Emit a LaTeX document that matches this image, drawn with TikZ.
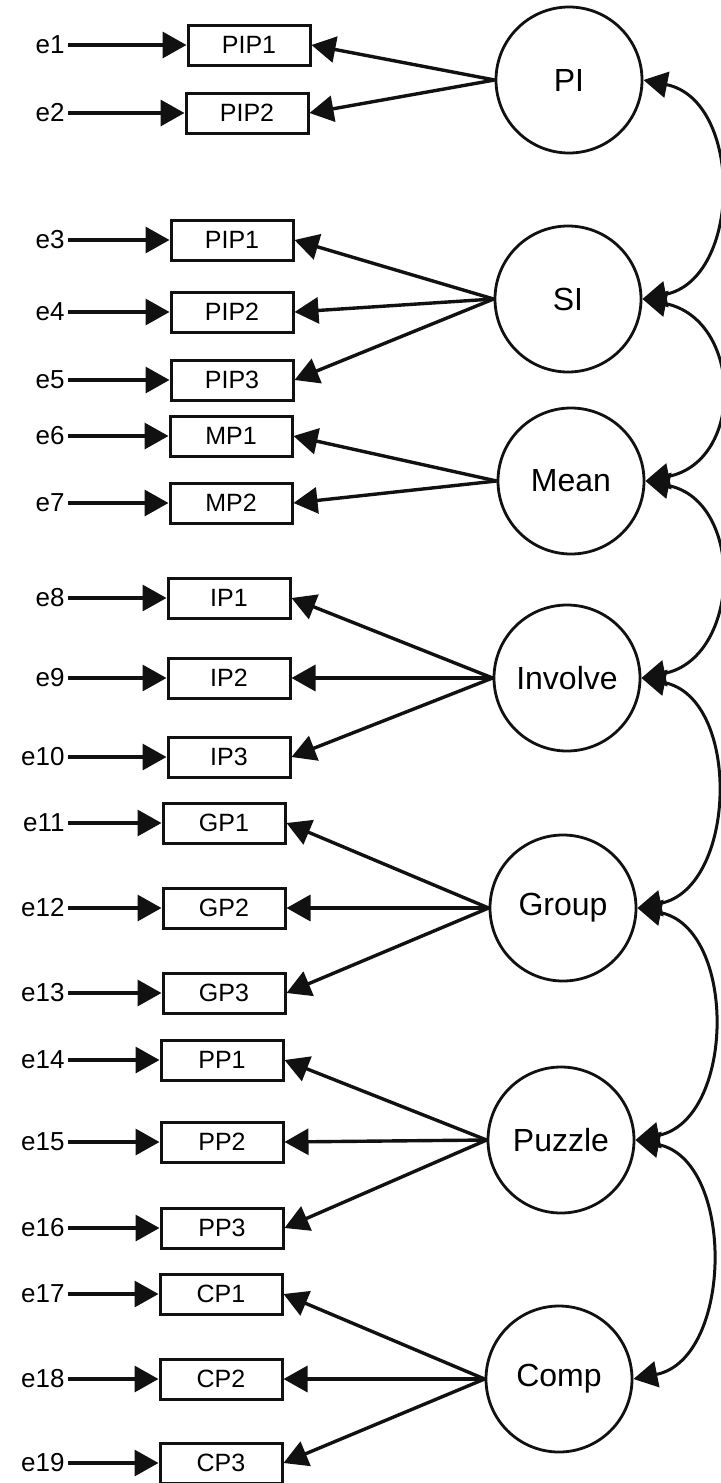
\documentclass[tikz,border=0pt]{standalone}
\usepackage{fontspec}
\setmainfont{Liberation Sans}
\usetikzlibrary{arrows.meta}
\definecolor{ink}{HTML}{111111}
\tikzset{
  >={Triangle[length=12pt,width=13pt]},
  ind/.style={draw=ink,line width=1.5pt,fill=white,minimum width=61pt,minimum height=20pt,inner sep=0pt,font=\fontsize{12.5}{14}\selectfont},
  lat/.style={circle,draw=ink,line width=1.4pt,fill=white,minimum size=73pt,inner sep=0pt,font=\fontsize{16}{18}\selectfont},
  err/.style={anchor=east,inner sep=1.5pt,font=\fontsize{13}{15}\selectfont},
  arr/.style={->,draw=ink,line width=1.7pt},
  cov/.style={<->,draw=ink,line width=1.5pt},
}
\begin{document}
\begin{tikzpicture}[x=0.5pt,y=-0.5pt]
  \useasboundingbox (0,0) rectangle (720,1483);
  % latent factors
  \node[lat] (PI) at (569,80) {PI};
  \node[lat] (SI) at (568,299) {SI};
  \node[lat] (Mean) at (571,481) {Mean};
  \node[lat] (Inv) at (567,678) {Involve};
  \node[lat] (Grp) at (563,908) {Group};
  \node[lat] (Puz) at (561,1140) {Puzzle};
  \node[lat] (Comp) at (559,1379) {Comp};
  % indicators, error terms, loadings
  \foreach \i/\lab/\x/\y/\f in {1/PIP1/249/45/PI, 2/PIP2/247/113/PI,
      3/PIP1/232/240/SI, 4/PIP2/232/312/SI, 5/PIP3/232/380/SI,
      6/MP1/231/436/Mean, 7/MP2/231/503/Mean,
      8/IP1/229/598/Inv, 9/IP2/229/678/Inv, 10/IP3/229/757/Inv,
      11/GP1/224/823/Grp, 12/GP2/224/908/Grp, 13/GP3/224/993/Grp,
      14/PP1/222/1060/Puz, 15/PP2/222/1142/Puz, 16/PP3/222/1228/Puz,
      17/CP1/221/1294/Comp, 18/CP2/221/1379/Comp, 19/CP3/221/1463/Comp} {
    \node[ind] (m\i) at (\x,\y) {\lab};
    \node[err] (e\i) at (68,\y) {e\i};
    \draw[arr] (e\i) -- (m\i);
    \draw[arr] (\f.west) -- (m\i.east);
  }
  % correlations between neighbouring factors
  \draw[cov] (PI.east) .. controls +(100,20) and +(100,-20) .. (SI.east);
  \draw[cov] (SI.east) .. controls +(100,20) and +(100,-20) .. (Mean.east);
  \draw[cov] (Mean.east) .. controls +(100,20) and +(100,-20) .. (Inv.east);
  \draw[cov] (Inv.east) .. controls +(100,20) and +(100,-20) .. (Grp.east);
  \draw[cov] (Grp.east) .. controls +(100,20) and +(100,-20) .. (Puz.east);
  \draw[cov] (Puz.east) .. controls +(100,20) and +(100,-20) .. (Comp.east);
\end{tikzpicture}
\end{document}
